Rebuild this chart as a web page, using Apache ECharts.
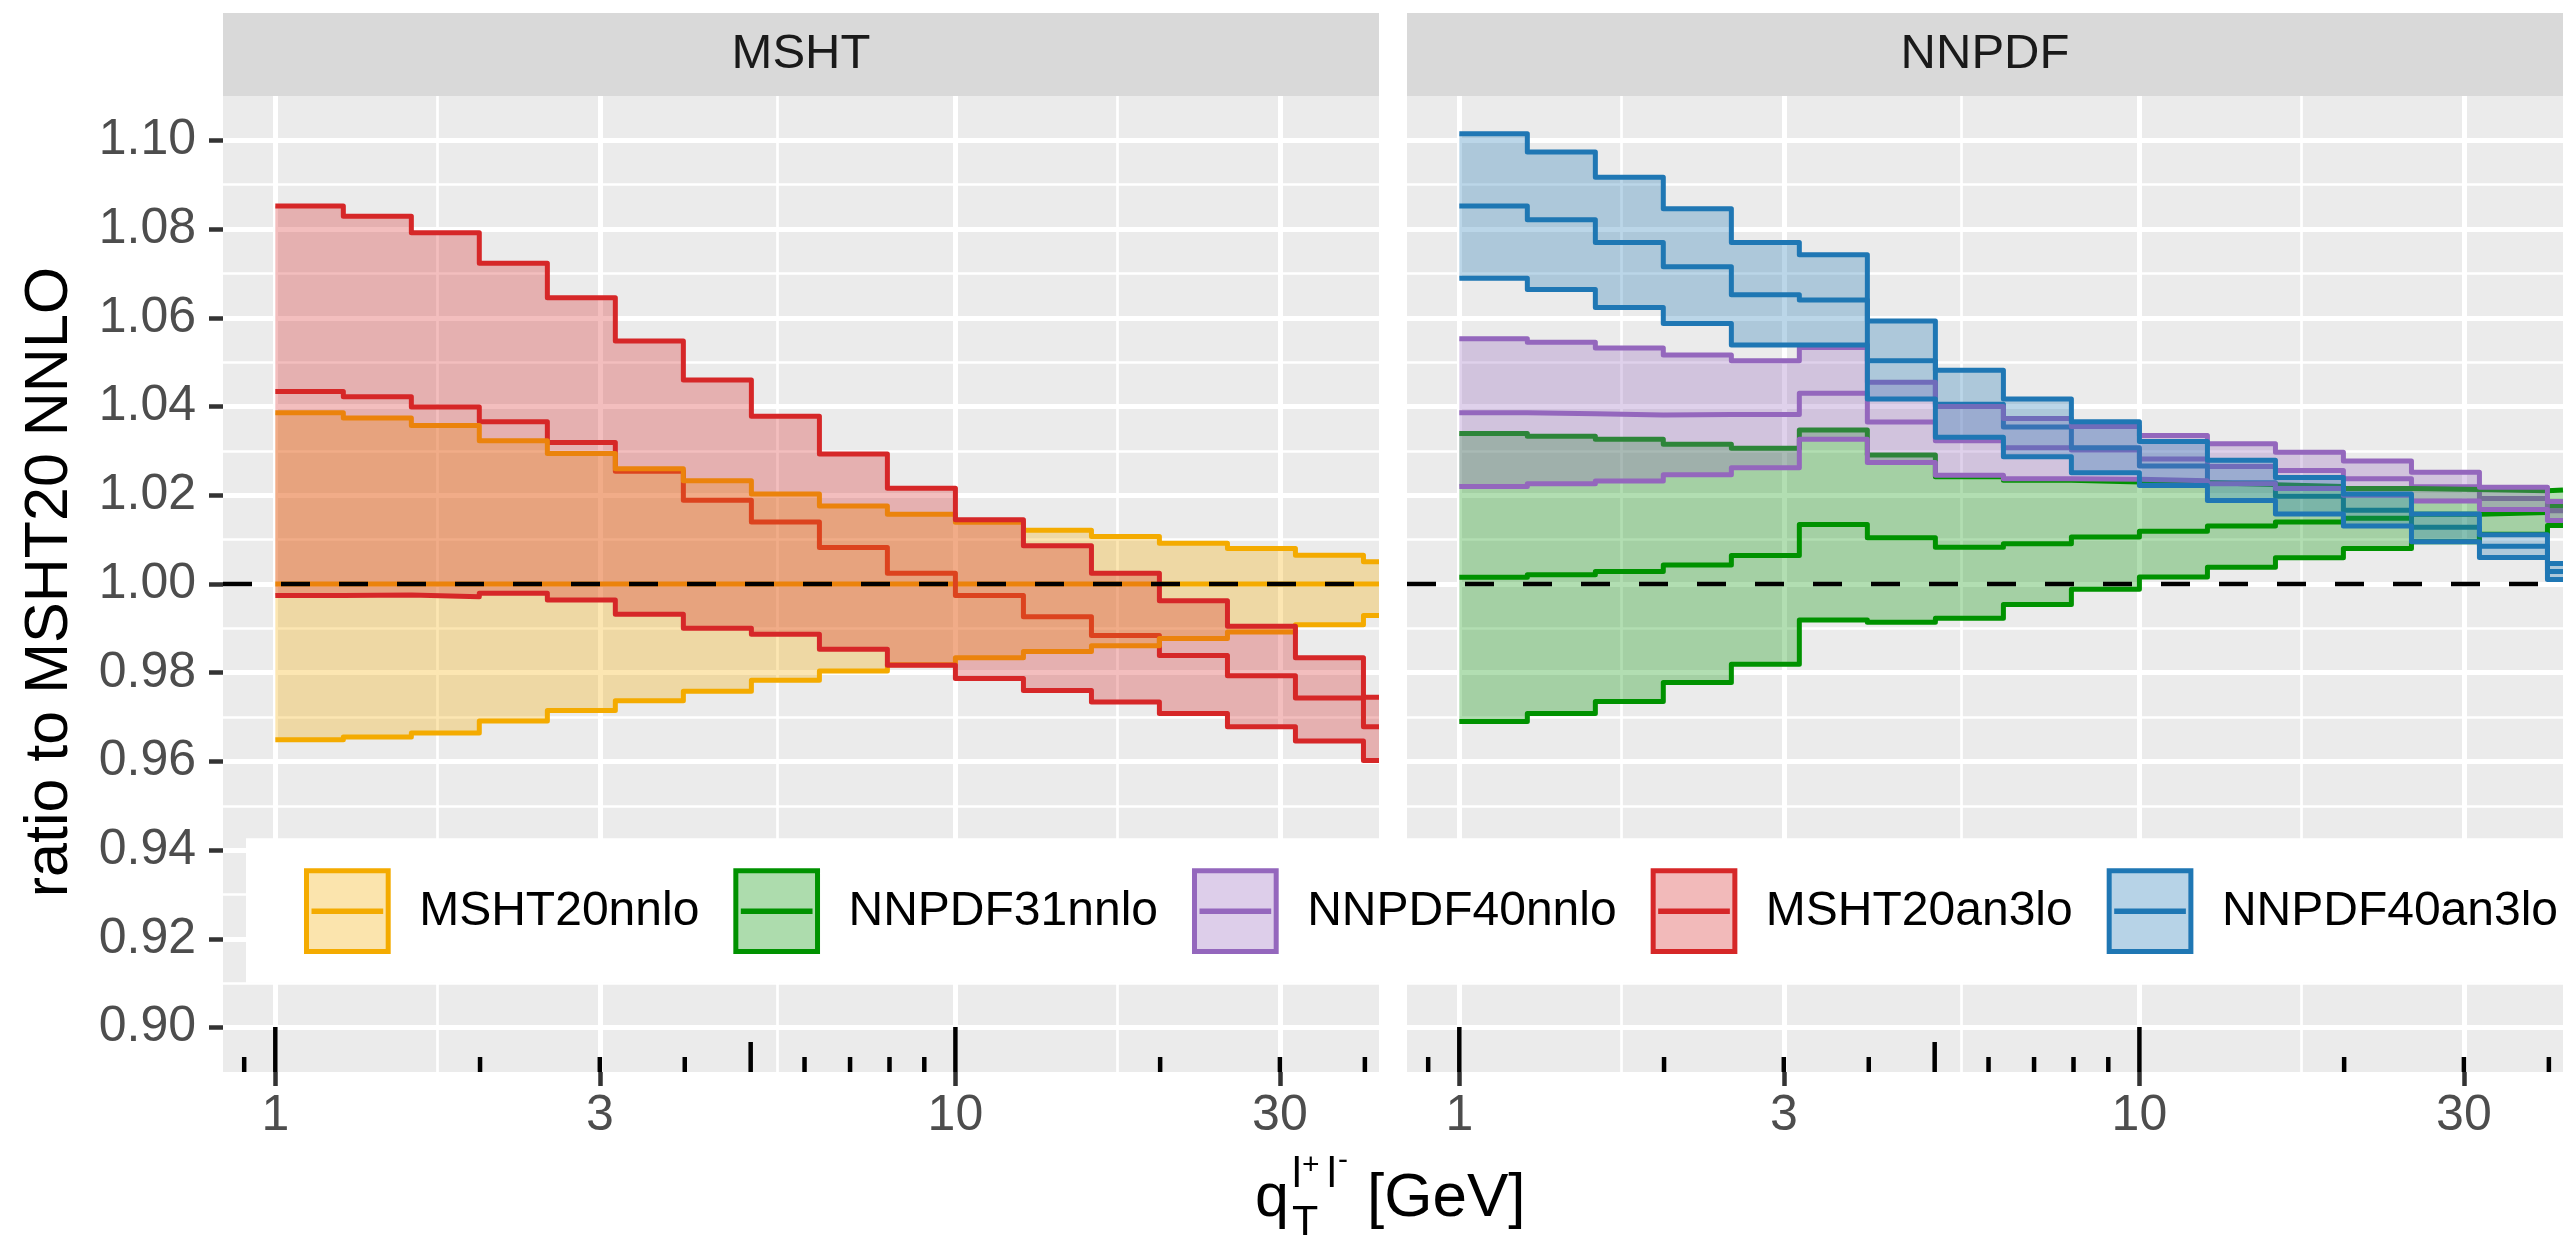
<!DOCTYPE html>
<html>
<head>
<meta charset="utf-8">
<title>ratio to MSHT20 NNLO</title>
<script src="https://cdn.jsdelivr.net/npm/echarts@6.0.0/dist/echarts.min.js"></script>
<style>
  html, body { margin: 0; padding: 0; background: #fff; }
  #chart { width: 2574px; height: 1241px; }
</style>
</head>
<body>
<div id="chart"></div>
<script>
(function () {
    // bin edges in q_T (GeV), one value per bin starts here
    var qtEdges = [1, 1.259, 1.585, 1.995, 2.512, 3.162, 3.981, 5.012, 6.310, 7.943,
        10, 12.59, 15.85, 19.95, 25.12, 31.62, 39.81];
    var xBreaks = [1, 3, 10, 30];
    var xMinorBreaks = [1.732, 5.477, 17.32];
    var yBreaks = [0.90, 0.92, 0.94, 0.96, 0.98, 1.00, 1.02, 1.04, 1.06, 1.08, 1.10];
    var logTicks = [0.9, 1, 2, 3, 4, 5, 6, 7, 8, 9, 10, 20, 30, 40];
    var refLine = 1.0;

    // MSHT panel
    var msht20nnloHigh = [1.0386, 1.0374, 1.0357, 1.0323, 1.0294, 1.0260, 1.0233, 1.0203, 1.0176, 1.0157, 1.0139, 1.0121, 1.0107, 1.0092, 1.0080, 1.0065, 1.0050];
    var msht20nnloMid = [1, 1, 1, 1, 1, 1, 1, 1, 1, 1, 1, 1, 1, 1, 1, 1, 1];
    var msht20nnloLow = [0.9649, 0.9655, 0.9664, 0.9691, 0.9715, 0.9737, 0.9758, 0.9783, 0.9804, 0.9818, 0.9834, 0.9848, 0.9861, 0.9877, 0.9892, 0.9908, 0.9929];

    var msht20an3loHigh = [1.0852, 1.0829, 1.0792, 1.0723, 1.0645, 1.0548, 1.0460, 1.0378, 1.0293, 1.0216, 1.0145, 1.0086, 1.0024, 0.9962, 0.9905, 0.9834, 0.9745];
    var msht20an3loMid = [1.0434, 1.0422, 1.0399, 1.0366, 1.0319, 1.0254, 1.0189, 1.0140, 1.0082, 1.0024, 0.9974, 0.9926, 0.9884, 0.9839, 0.9793, 0.9743, 0.9678];
    var msht20an3loLow = [0.9974, 0.9975, 0.9971, 0.9979, 0.9964, 0.9932, 0.9900, 0.9887, 0.9853, 0.9817, 0.9787, 0.9760, 0.9734, 0.9708, 0.9678, 0.9646, 0.9602];

    // NNPDF panel
    var nnpdf31nnloHigh = [1.0339, 1.0333, 1.0326, 1.0315, 1.0306, 1.0347, 1.0291, 1.0242, 1.0234, 1.0230, 1.0228, 1.0224, 1.0220, 1.0215, 1.0213, 1.0210, 1.0212];
    var nnpdf31nnloMid = [1.0015, 1.0021, 1.0028, 1.0043, 1.0064, 1.0134, 1.0104, 1.0083, 1.0091, 1.0106, 1.0119, 1.0131, 1.0140, 1.0148, 1.0157, 1.0161, 1.0176];
    var nnpdf31nnloLow = [0.9690, 0.9708, 0.9735, 0.9778, 0.9819, 0.9919, 0.9914, 0.9923, 0.9954, 0.9988, 1.0016, 1.0038, 1.0059, 1.0080, 1.0095, 1.0112, 1.0132];

    var nnpdf40nnloHigh = [1.0553, 1.0545, 1.0532, 1.0516, 1.0503, 1.0533, 1.0455, 1.0400, 1.0373, 1.0355, 1.0335, 1.0316, 1.0297, 1.0277, 1.0252, 1.0218, 1.0186];
    var nnpdf40nnloMid = [1.0386, 1.0384, 1.0381, 1.0382, 1.0382, 1.0430, 1.0365, 1.0323, 1.0307, 1.0302, 1.0282, 1.0265, 1.0256, 1.0237, 1.0219, 1.0193, 1.0165];
    var nnpdf40nnloLow = [1.0220, 1.0226, 1.0232, 1.0246, 1.0262, 1.0326, 1.0274, 1.0245, 1.0237, 1.0236, 1.0233, 1.0226, 1.0215, 1.0200, 1.0187, 1.0168, 1.0143];

    var nnpdf40an3loHigh = [1.1015, 1.0974, 1.0917, 1.0846, 1.0770, 1.0742, 1.0593, 1.0482, 1.0417, 1.0366, 1.0321, 1.0279, 1.0240, 1.0203, 1.0158, 1.0111, 1.0046];
    var nnpdf40an3loMid = [1.0852, 1.0821, 1.0770, 1.0715, 1.0652, 1.0640, 1.0503, 1.0405, 1.0354, 1.0307, 1.0266, 1.0228, 1.0198, 1.0166, 1.0128, 1.0085, 1.0028];
    var nnpdf40an3loLow = [1.0689, 1.0664, 1.0623, 1.0587, 1.0539, 1.0539, 1.0417, 1.0331, 1.0287, 1.0251, 1.0222, 1.0188, 1.0158, 1.0131, 1.0095, 1.0060, 1.0010];

    var legendOrder = ['MSHT20nnlo', 'NNPDF31nnlo', 'NNPDF40nnlo', 'MSHT20an3lo', 'NNPDF40an3lo'];

    var FONT = 'Liberation Sans';
    var X_MIN = 0.8377, X_MAX = 41.96, Y_MIN = 0.89, Y_MAX = 1.11;
    var LINE_W = 5;

    var panels = [{
        label: 'MSHT',
        groups: [
            { name: 'MSHT20nnlo', color: '#F4AB00', lo: msht20nnloLow, mid: msht20nnloMid, hi: msht20nnloHigh },
            { name: 'MSHT20an3lo', color: '#D62728', lo: msht20an3loLow, mid: msht20an3loMid, hi: msht20an3loHigh }
        ]
    }, {
        label: 'NNPDF',
        groups: [
            { name: 'NNPDF31nnlo', color: '#009200', lo: nnpdf31nnloLow, mid: nnpdf31nnloMid, hi: nnpdf31nnloHigh },
            { name: 'NNPDF40nnlo', color: '#9467BD', lo: nnpdf40nnloLow, mid: nnpdf40nnloMid, hi: nnpdf40nnloHigh },
            { name: 'NNPDF40an3lo', color: '#1F77B4', lo: nnpdf40an3loLow, mid: nnpdf40an3loMid, hi: nnpdf40an3loHigh }
        ]
    }];

    var gridBoxes = [
        { left: 223, top: 96, width: 1156, height: 976 },
        { left: 1407, top: 96, width: 1156, height: 976 }
    ];

    function fade(hex, a) {
        var n = parseInt(hex.slice(1), 16);
        return 'rgba(' + (n >> 16) + ',' + ((n >> 8) & 255) + ',' + (n & 255) + ',' + a + ')';
    }

    function stepData(vals) {
        var pts = vals.map(function (v, i) { return [qtEdges[i], v]; });
        pts.push([X_MAX, vals[vals.length - 1]]);
        return pts;
    }

    function stepLine(name, vals, color, pi, z) {
        return {
            name: name,
            type: 'line',
            xAxisIndex: pi * 2,
            yAxisIndex: pi * 2,
            data: stepData(vals),
            step: 'end',
            symbol: 'none',
            showSymbol: false,
            silent: true,
            z: z,
            itemStyle: { color: color },
            lineStyle: { color: color, width: LINE_W, join: 'round' }
        };
    }

    // ribbon between lower and upper step lines
    function band(g, pi, z) {
        return {
            name: g.name,
            type: 'custom',
            xAxisIndex: pi * 2,
            yAxisIndex: pi * 2,
            silent: true,
            z: z,
            itemStyle: { color: g.color },
            data: [[qtEdges[0], g.mid[0]]],
            renderItem: function (params, api) {
                var top = [], bottom = [];
                for (var i = 0; i < qtEdges.length; i++) {
                    var x0 = qtEdges[i];
                    var x1 = i + 1 < qtEdges.length ? qtEdges[i + 1] : X_MAX;
                    top.push(api.coord([x0, g.hi[i]]), api.coord([x1, g.hi[i]]));
                    bottom.push(api.coord([x0, g.lo[i]]), api.coord([x1, g.lo[i]]));
                }
                return {
                    type: 'polygon',
                    shape: { points: top.concat(bottom.reverse()) },
                    style: { fill: fade(g.color, 0.3), stroke: null }
                };
            }
        };
    }

    function refLineSeries(pi) {
        return {
            type: 'line',
            xAxisIndex: pi * 2,
            yAxisIndex: pi * 2,
            data: [[X_MIN, refLine], [X_MAX, refLine]],
            symbol: 'none',
            silent: true,
            z: 12,
            lineStyle: { color: '#000', width: 4.5, type: [29, 29] }
        };
    }

    // annotation_logticks style marks at the panel bottom
    function logTickSeries(pi) {
        return {
            type: 'custom',
            xAxisIndex: pi * 2,
            yAxisIndex: pi * 2,
            silent: true,
            clip: false,
            z: 12,
            data: logTicks.map(function (v) { return [v, Y_MIN]; }),
            renderItem: function (params, api) {
                var v = api.value(0);
                var p = api.coord([v, Y_MIN]);
                var lead = Math.round(v / Math.pow(10, Math.floor(Math.log10(v) + 1e-9)));
                var len = lead === 1 ? 45 : (lead === 5 ? 30 : 15);
                return {
                    type: 'line',
                    shape: { x1: p[0], y1: p[1], x2: p[0], y2: p[1] - len },
                    style: { stroke: '#000', lineWidth: 4.5 }
                };
            }
        };
    }

    function xMajor(gi) {
        return {
            type: 'log', logBase: 10, gridIndex: gi, min: X_MIN, max: X_MAX,
            axisLine: { show: false },
            axisTick: { show: true, customValues: xBreaks, length: 14, lineStyle: { color: '#333333', width: 4.5 } },
            axisLabel: {
                show: true, customValues: xBreaks, fontSize: 50, color: '#4D4D4D', margin: 19, fontFamily: FONT,
                formatter: function (v) { return String(v); }
            },
            splitLine: { show: true, lineStyle: { color: '#FFFFFF', width: 5 } },
            minorTick: { show: false }, minorSplitLine: { show: false }
        };
    }

    function xMinor(gi) {
        return {
            type: 'log', logBase: 10, gridIndex: gi, min: X_MIN, max: X_MAX, position: 'bottom',
            axisLine: { show: false },
            axisTick: { show: false, customValues: xMinorBreaks },
            axisLabel: { show: false },
            splitLine: { show: true, lineStyle: { color: '#FFFFFF', width: 2.7 } }
        };
    }

    function yMajor(gi, labels) {
        return {
            type: 'value', gridIndex: gi, min: Y_MIN, max: Y_MAX, interval: 0.01,
            axisLine: { show: false },
            axisTick: { show: labels, customValues: yBreaks, length: 14, lineStyle: { color: '#333333', width: 4.5 } },
            axisLabel: {
                show: labels, customValues: yBreaks, fontSize: 50, color: '#4D4D4D', margin: 27, fontFamily: FONT,
                formatter: function (v) { return v.toFixed(2); }
            },
            splitLine: { show: true, lineStyle: { color: '#FFFFFF', width: 5 } }
        };
    }

    function yMinor(gi) {
        return {
            type: 'value', gridIndex: gi, min: Y_MIN, max: Y_MAX, interval: 0.02, position: 'left',
            axisLine: { show: false },
            axisTick: { show: false },
            axisLabel: { show: false },
            splitLine: { show: true, showMinLine: false, showMaxLine: false, lineStyle: { color: '#FFFFFF', width: 2.7 } }
        };
    }

    var series = [];
    panels.forEach(function (p, pi) {
        p.groups.forEach(function (g) {
            series.push(stepLine(g.name + ' central', g.mid, g.color, pi, 2));
        });
        p.groups.forEach(function (g, gi) {
            series.push(band(g, pi, 3 + gi * 2));
            series.push(stepLine(g.name + ' upper', g.hi, g.color, pi, 4 + gi * 2));
            series.push(stepLine(g.name + ' lower', g.lo, g.color, pi, 4 + gi * 2));
        });
        series.push(refLineSeries(pi));
        series.push(logTickSeries(pi));
    });

    var colorOf = {};
    panels.forEach(function (p) { p.groups.forEach(function (g) { colorOf[g.name] = g.color; }); });

    var graphic = [];
    panels.forEach(function (p, pi) {
        var b = gridBoxes[pi];
        graphic.push({
            type: 'rect', shape: { x: b.left, y: 13, width: b.width, height: 83 },
            style: { fill: '#D9D9D9' }, silent: true
        });
        graphic.push({
            type: 'text', x: b.left + b.width / 2, y: 54.5, silent: true,
            style: { text: p.label, fontSize: 49, fontFamily: FONT, fill: '#1A1A1A',
                align: 'center', verticalAlign: 'middle', textAlign: 'center', textVerticalAlign: 'middle' }
        });
    });

    function label(txt, x, y, size, z) {
        return {
            type: 'text', x: x, y: y, silent: true, z: z || 0,
            style: { text: txt, fontSize: size, fontFamily: FONT, fill: '#000',
                align: 'left', verticalAlign: 'middle', textAlign: 'left', textVerticalAlign: 'middle' }
        };
    }

    // y title
    graphic.push({
        type: 'text', x: 50, y: 582, rotation: Math.PI / 2, silent: true,
        style: { text: 'ratio to MSHT20 NNLO', fontSize: 61, fontFamily: FONT, fill: '#000',
            align: 'center', verticalAlign: 'middle', textAlign: 'center', textVerticalAlign: 'middle' }
    });
    // x title: q_T^{l+ l-} [GeV]
    graphic.push(label('q', 1255, 1199, 61));
    graphic.push(label('T', 1292, 1223, 43));
    graphic.push(label('l', 1292, 1175, 43));
    graphic.push(label('+', 1302, 1166, 30));
    graphic.push(label('l', 1327, 1175, 43));
    graphic.push(label('-', 1338, 1161, 30));
    graphic.push(label('[GeV]', 1367, 1199, 62));

    // legend drawn inside the plot, one row: filled key with border and centre line
    var LEG_FONT = 48;
    var measure = document.createElement('canvas').getContext('2d');
    measure.font = LEG_FONT + 'px "' + FONT + '"';
    graphic.push({
        type: 'rect', z: 50, silent: true,
        shape: { x: 246, y: 838.3, width: 2400, height: 144.4 },
        style: { fill: '#FFFFFF' }
    });
    var cx = 304;
    legendOrder.forEach(function (n) {
        var c = colorOf[n];
        graphic.push({
            type: 'rect', z: 51, silent: true,
            shape: { x: cx + 2.5, y: 870.8, width: 81.7, height: 80.7 },
            style: { fill: fade(c, 0.32), stroke: c, lineWidth: 5 }
        });
        graphic.push({
            type: 'line', z: 52, silent: true,
            shape: { x1: cx + 7.5, y1: 911.2, x2: cx + 79.2, y2: 911.2 },
            style: { stroke: c, lineWidth: 5.5 }
        });
        var tx = cx + 115.2;
        graphic.push(label(n, tx, 912, LEG_FONT, 52));
        cx = tx + measure.measureText(n).width + 34;
    });

    var chart = echarts.init(document.getElementById('chart'));
    chart.setOption({
        animation: false,
        backgroundColor: '#FFFFFF',
        textStyle: { fontFamily: FONT },
        grid: gridBoxes.map(function (b) {
            return { left: b.left, top: b.top, width: b.width, height: b.height, show: true,
                backgroundColor: '#EBEBEB', borderWidth: 0, containLabel: false };
        }),
        xAxis: [xMajor(0), xMinor(0), xMajor(1), xMinor(1)],
        yAxis: [yMajor(0, true), yMinor(0), yMajor(1, false), yMinor(1)],
        graphic: graphic,
        series: series
    });
})();
</script>
</body>
</html>
